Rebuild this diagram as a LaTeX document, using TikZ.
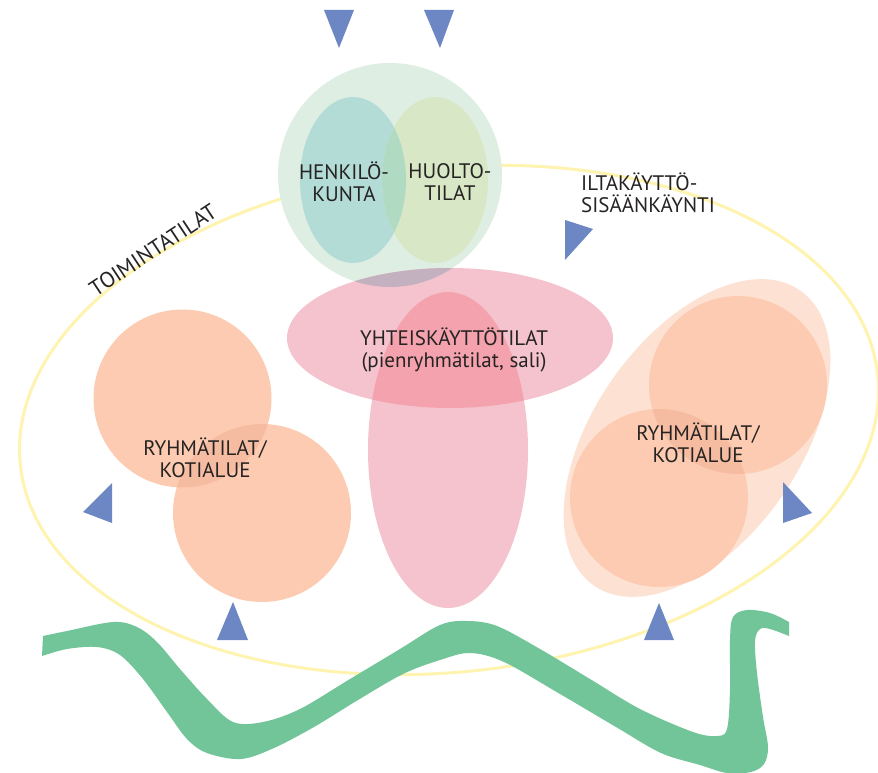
\documentclass[tikz,border=0pt]{standalone}
\usepackage{fontspec}
\setmainfont{PT Sans}
\definecolor{ylw}{HTML}{FFF3B0}
\definecolor{gcirc}{HTML}{DFEEE3}
\definecolor{teal1}{HTML}{B4DCD6}
\definecolor{ygreen}{HTML}{D8E8C6}
\definecolor{tyov}{HTML}{B1DAC3}
\definecolor{pink1}{HTML}{F5C3CE}
\definecolor{pinkov}{HTML}{F4A3AE}
\definecolor{purpov}{HTML}{C4B1C0}
\definecolor{orng}{HTML}{FCCBB1}
\definecolor{orngov}{HTML}{F6BCA2}
\definecolor{peach}{HTML}{FDE2D3}
\definecolor{blu}{HTML}{6C87C3}
\definecolor{wavec}{HTML}{72C499}
\definecolor{textc}{HTML}{262323}
\begin{document}
\begin{tikzpicture}[x=1pt,y=-1pt,
  lbl/.style={align=center,inner sep=0pt,text=textc,font=\fontsize{21}{22.5}\selectfont},
  tri/.style={fill=blu},
  ring/.style={draw=ylw,line width=3pt}]
\useasboundingbox (0,0) rectangle (878,773);
\fill[white] (0,0) rectangle (878,773);
% big yellow outline
\draw[ring, rotate around={6:(449,420)}] (449,420) ellipse (431 and 252);
% top circle group
\fill[gcirc] (390,175) circle (112);
\fill[teal1] (353,180) ellipse (53 and 83);
\fill[ygreen] (435,180) ellipse (53 and 83);
\begin{scope}
 \clip (353,180) ellipse (53 and 83);
 \fill[tyov] (435,180) ellipse (53 and 83);
\end{scope}
% pink
\fill[pink1] (450,338) ellipse (163 and 70);
\fill[pink1] (448,450) ellipse (80 and 158);
\begin{scope}
 \clip (450,338) ellipse (163 and 70);
 \fill[pinkov] (448,450) ellipse (80 and 158);
\end{scope}
\begin{scope}
 \clip (390,175) circle (112);
 \fill[purpov] (450,338) ellipse (163 and 70);
\end{scope}
% left group
\fill[orng] (182.5,398.5) circle (89);
\fill[orng] (262,513) circle (89);
\begin{scope}
 \clip (182.5,398.5) circle (89);
 \fill[orngov] (262,513) circle (89);
\end{scope}
% right group
\fill[peach, rotate around={55:(697,438)}] (697,438) ellipse (180 and 103);
\fill[orng] (738,385) circle (89);
\fill[orng] (659,498) circle (89);
\begin{scope}
 \clip (738,385) circle (89);
 \fill[orngov] (659,498) circle (89);
\end{scope}
% green wave
\fill[wavec] plot[smooth,tension=0.55] coordinates {
 (43,636) (67,631) (113,622) (137,627) (157,642) (180,669) (207,699) (233,722) (263,722)
 (300,709) (350,679) (400,649) (440,625) (467,621) (497,626) (540,649) (590,679) (640,709)
 (693,732) (717,736) (727,729) (730,690) (730,640) (733,617) (747,610) (770,613) (789,622)}
 -- plot[smooth,tension=0.55] coordinates {
 (789,636) (770,629) (760,629) (755,641) (757,673) (763,717) (768,747) (764,764) (751,772)
 (727,773) (700,765) (661,753) (616,727) (560,694) (504,662) (470,653) (440,660) (403,674)
 (358,700) (314,727) (274,748) (241,759) (207,753) (187,739) (167,712) (143,679) (120,655)
 (97,647) (67,649) (42,656)} -- cycle;
% triangles
\fill[tri] (324,10) -- (354,10) -- (339,48) -- cycle;
\fill[tri] (424,10) -- (454,10) -- (440,48) -- cycle;
\fill[tri] (565,220) -- (593,229) -- (565,260) -- cycle;
\fill[tri] (112,483) -- (112,523) -- (83,512) -- cycle;
\fill[tri] (783,482) -- (812,513) -- (783,523) -- cycle;
\fill[tri] (217,640) -- (233,602) -- (248,640) -- cycle;
\fill[tri] (644,640) -- (659,603) -- (674,640) -- cycle;
% labels
\node[lbl] (henk) at (344,182) {HENKILÖ-\\KUNTA};
\node[lbl] (huol) at (450,182) {HUOLTO-\\TILAT};
\node[lbl,anchor=west,align=left] (ilta) at (581,193) {ILTAKÄYTTÖ-\\SISÄÄNKÄYNTI};
\node[lbl] (yht) at (454,350) {YHTEISKÄYTTÖTILAT\\(pienryhmätilat, sali)};
\node[lbl] (ryl) at (205,458) {RYHMÄTILAT/\\KOTIALUE};
\node[lbl] (ryr) at (698,443) {RYHMÄTILAT/\\KOTIALUE};
\node[lbl,font=\fontsize{22}{24}\selectfont,rotate=33.5] (toim) at (153,250) {TOIMINTATILAT};
\end{tikzpicture}
\end{document}
